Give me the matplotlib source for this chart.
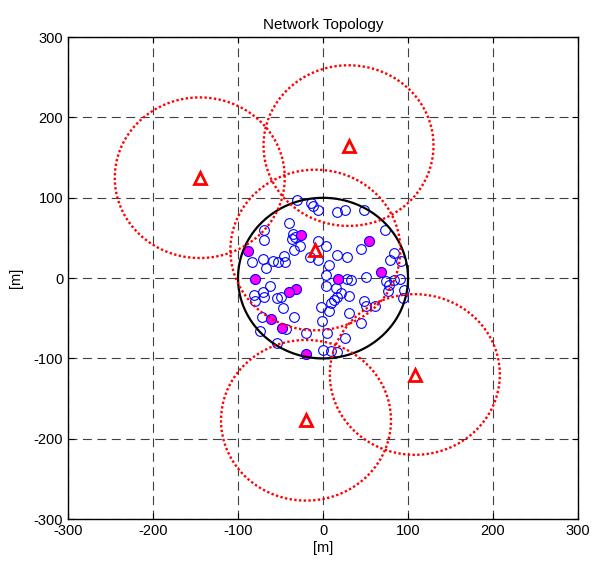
import numpy as np
import matplotlib
matplotlib.use('Agg')
import matplotlib.pyplot as plt

matplotlib.rcParams.update({'font.family': 'Liberation Sans', 'font.size': 10,
                            'axes.unicode_minus': False})

# unknown nodes (blue open circles)
node_x = [-30.8, -14.4, -12.1, -5.8, 16.8, 25.3, 48.7, -39.8, -69.8, 73.3,
          -69.0, -35.9, -37.0, -33.1, -26.9, -5.8, 3.1, -33.9, 44.1, -15.2,
          -5.8, 16.0, 27.7, 7.4, -83.8, -71.0, -59.3, -53.4, -45.6, -44.8,
          -66.7, 83.8, 79.1, 92.0, 3.1, 3.1, 28.5, 33.5, 50.3, 74.1,
          77.2, 83.0, 90.8, -62.0, -80.7, -71.0, -79.9, -69.0, -54.2, -47.6,
          -49.5, 14.8, 20.7, 16.8, 30.4, 12.9, 9.0, -2.7, 7.0, 30.4,
          48.7, 50.7, 61.6, 94.7, 93.6, -71.7, -33.9, -43.7, -73.7, -20.3,
          5.1, 44.8, 25.3, 0.4, 9.7, 16.8, -54.2, 76.0, -1.0]
node_y = [96.7, 93.8, 89.6, 84.6, 82.5, 85.4, 85.4, 68.8, 59.6, 60.4,
          47.9, 55.0, 49.2, 51.3, 39.6, 46.7, 40.4, 35.4, 36.7, 26.3,
          22.9, 29.2, 26.3, 16.7, 19.6, 23.8, 20.8, 20.0, 27.9, 19.6,
          12.5, 31.3, 22.9, 20.8, 4.2, -9.6, -1.3, -2.1, 1.3, -4.2,
          -8.3, -2.1, -1.3, -10.4, -20.8, -16.7, -27.9, -23.8, -25.0, -37.5,
          -22.9, -12.5, -18.8, -23.8, -22.1, -27.1, -30.4, -35.4, -40.8, -42.9,
          -27.9, -34.6, -34.2, -14.6, -25.0, -47.9, -47.9, -63.3, -65.4, -67.9,
          -68.8, -56.3, -75.0, -89.6, -90.4, -91.7, -81.3, -16.0, -53.0]

# anchor nodes (magenta filled)
anchor_x = [-26.4, 53.6, -87.8, -80.0, 17.5, 68.7, -32.2, -39.6, -61.7, -48.2, -19.5]
anchor_y = [53.3, 45.8, 34.2, -1.3, -1.3, 7.5, -13.3, -17.5, -51.3, -62.0, -94.6]

# beacons (red triangles) and their ranges
beacon_x = [-145, 30, -9, 108, -20]
beacon_y = [125, 165, 35, -120, -177]
beacon_r = 100
area_r = 100

fig = plt.figure(figsize=(5.94, 5.63), dpi=100)
ax = fig.add_axes([0.1145, 0.078, 0.8586, 0.856])

ax.plot(node_x, node_y, 'o', ms=7, mfc='none', mec='blue', mew=0.8, zorder=3)
ax.plot(anchor_x, anchor_y, 'o', ms=7.2, mfc='magenta', mec='blue', mew=0.8, zorder=4)

t = np.linspace(0, 2*np.pi, 400)
ax.plot(area_r*np.cos(t), area_r*np.sin(t), color='black', lw=1.6, zorder=5)
for bx, by in zip(beacon_x, beacon_y):
    ax.plot(bx + beacon_r*np.cos(t), by + beacon_r*np.sin(t), color='red',
            lw=1.7, linestyle=(0, (1, 1)), dash_capstyle='butt', zorder=6)
ax.plot(beacon_x, beacon_y, '^', ms=8, mfc='none', mec='red', mew=2, zorder=7)

ax.set_xlim(-300, 300)
ax.set_ylim(-300, 300)
ax.set_xticks(np.arange(-300, 301, 100))
ax.set_yticks(np.arange(-300, 301, 100))
ax.grid(True, color='0.25', lw=0.8, linestyle=(0, (8, 5)))
ax.set_axisbelow(True)
ax.tick_params(direction='in', top=True, right=True, length=4, width=0.8, labelsize=10.5)
for s in ax.spines.values():
    s.set_linewidth(1.0)

ax.set_title('Network Topology', fontsize=11, pad=6)
ax.set_xlabel('[m]', fontsize=10.5, labelpad=2)
ax.set_ylabel('[m]', fontsize=10.5, labelpad=8)

fig.savefig('out.png', dpi=100)
